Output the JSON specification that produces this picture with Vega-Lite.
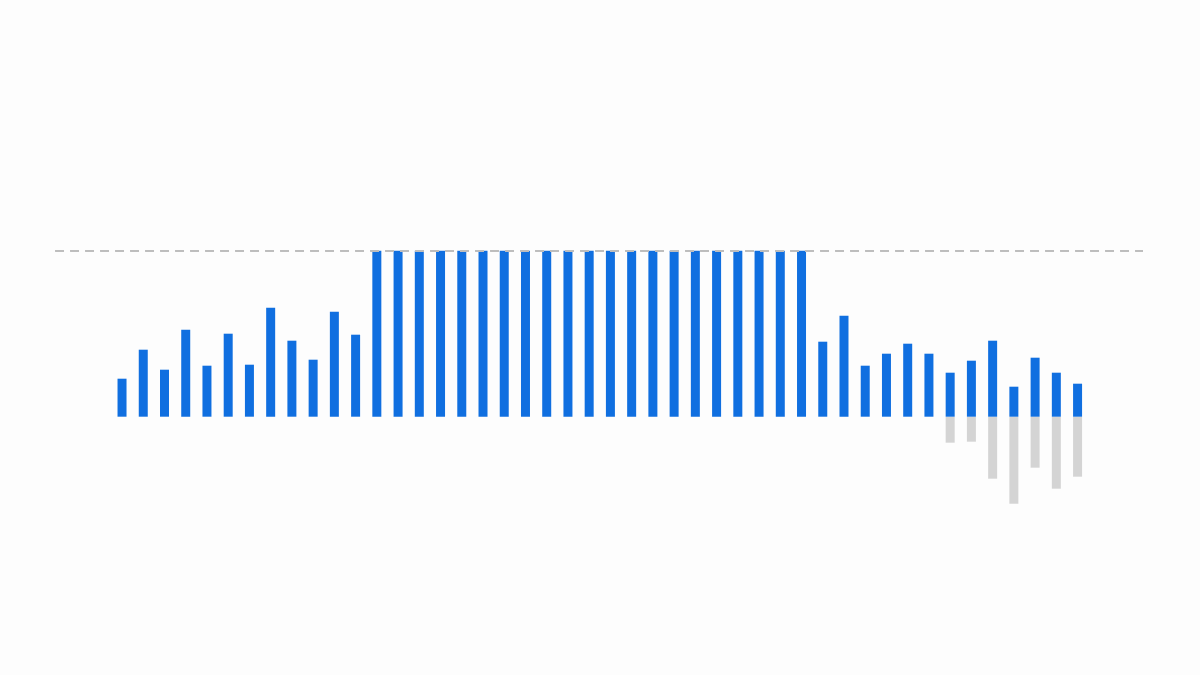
{
  "$schema": "https://vega.github.io/schema/vega-lite/v6.json",
  "autosize": {"type": "fit", "contains": "padding"},
  "width": 1200,
  "height": 675,
  "padding": 0,
  "background": "#fdfdfd",
  "config": {"view": {"stroke": null}},
  "data": {
    "values": [
      {"i": 0, "up": 38, "down": 0},
      {"i": 1, "up": 67, "down": 0},
      {"i": 2, "up": 47, "down": 0},
      {"i": 3, "up": 87, "down": 0},
      {"i": 4, "up": 51, "down": 0},
      {"i": 5, "up": 83, "down": 0},
      {"i": 6, "up": 52, "down": 0},
      {"i": 7, "up": 109, "down": 0},
      {"i": 8, "up": 76, "down": 0},
      {"i": 9, "up": 57, "down": 0},
      {"i": 10, "up": 105, "down": 0},
      {"i": 11, "up": 82, "down": 0},
      {"i": 12, "up": 166, "down": 0},
      {"i": 13, "up": 166, "down": 0},
      {"i": 14, "up": 166, "down": 0},
      {"i": 15, "up": 166, "down": 0},
      {"i": 16, "up": 166, "down": 0},
      {"i": 17, "up": 166, "down": 0},
      {"i": 18, "up": 166, "down": 0},
      {"i": 19, "up": 166, "down": 0},
      {"i": 20, "up": 166, "down": 0},
      {"i": 21, "up": 166, "down": 0},
      {"i": 22, "up": 166, "down": 0},
      {"i": 23, "up": 166, "down": 0},
      {"i": 24, "up": 166, "down": 0},
      {"i": 25, "up": 166, "down": 0},
      {"i": 26, "up": 166, "down": 0},
      {"i": 27, "up": 166, "down": 0},
      {"i": 28, "up": 166, "down": 0},
      {"i": 29, "up": 166, "down": 0},
      {"i": 30, "up": 166, "down": 0},
      {"i": 31, "up": 166, "down": 0},
      {"i": 32, "up": 166, "down": 0},
      {"i": 33, "up": 75, "down": 0},
      {"i": 34, "up": 101, "down": 0},
      {"i": 35, "up": 51, "down": 0},
      {"i": 36, "up": 63, "down": 0},
      {"i": 37, "up": 73, "down": 0},
      {"i": 38, "up": 63, "down": 0},
      {"i": 39, "up": 44, "down": -26},
      {"i": 40, "up": 56, "down": -25},
      {"i": 41, "up": 76, "down": -62},
      {"i": 42, "up": 30, "down": -87},
      {"i": 43, "up": 59, "down": -51},
      {"i": 44, "up": 44, "down": -72},
      {"i": 45, "up": 33, "down": -60}
    ]
  },
  "encoding": {
    "x": {
      "field": "i",
      "type": "quantitative",
      "scale": {"domain": [-5.511, 50.53], "nice": false, "zero": false},
      "axis": null
    }
  },
  "layer": [
    {
      "mark": {"type": "bar", "width": 9, "color": "#d4d4d4"},
      "encoding": {
        "y": {
          "field": "down",
          "type": "quantitative",
          "scale": {"domain": [-258.3, 416.7], "nice": false, "zero": false},
          "axis": null
        },
        "y2": {"datum": 0}
      }
    },
    {
      "mark": {"type": "bar", "width": 9, "color": "#106fe0"},
      "encoding": {
        "y": {"field": "up", "type": "quantitative", "axis": null},
        "y2": {"datum": 0}
      }
    },
    {
      "mark": {
        "type": "rule",
        "color": "#bdbdbd",
        "strokeWidth": 1.5,
        "strokeDash": [8, 7]
      },
      "encoding": {
        "x": {"datum": -3.12},
        "x2": {"datum": 48.08},
        "y": {"datum": 166}
      }
    }
  ]
}
